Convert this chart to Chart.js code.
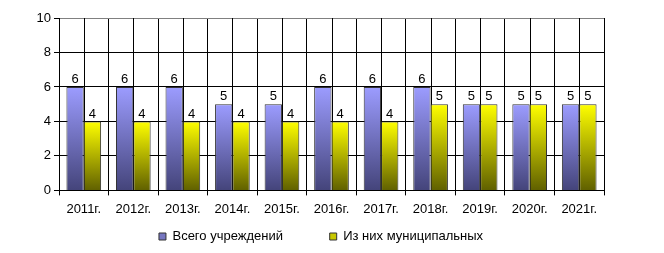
<!DOCTYPE html>
<html>
<head>
<meta charset="utf-8">
<script src="https://cdn.jsdelivr.net/npm/chart.js@4/dist/chart.umd.min.js"></script>
<style>
  body { margin: 0; background: #fff; }
  #wrap { width: 664px; height: 253px; }
</style>
</head>
<body>
<div id="wrap"><canvas id="myChart" width="664" height="253"></canvas></div>
<script>
// data
var years = ["2011г.", "2012г.", "2013г.", "2014г.", "2015г.", "2016г.", "2017г.", "2018г.", "2019г.", "2020г.", "2021г."];
var allInst = [6, 6, 6, 5, 5, 6, 6, 6, 5, 5, 5];
var municipal = [4, 4, 4, 4, 4, 4, 4, 5, 5, 5, 5];
var yTicks = [0, 2, 4, 6, 8, 10];
var seriesNames = ["Всего учреждений", "Из них муниципальных"];

var FONT = "Arial, 'Liberation Sans', sans-serif";

// vertical gradient per bar, light on top, dark at the base
function barGradient(top, bottom) {
  return function (c) {
    var chart = c.chart;
    if (!chart.chartArea || c.dataIndex === undefined) return top;
    var y = chart.scales.y;
    var v = c.dataset.data[c.dataIndex];
    var y0 = y.getPixelForValue(v), y1 = y.getPixelForValue(0);
    var g = chart.ctx.createLinearGradient(0, y0, 0, y1);
    g.addColorStop(0, top);
    g.addColorStop(1, bottom);
    return g;
  };
}

// lines through the middle of each category + value labels over bars
var extras = {
  id: 'extras',
  beforeDatasetsDraw: function (chart) {
    var x = chart.scales.x, a = chart.chartArea, ctx = chart.ctx;
    ctx.save();
    ctx.strokeStyle = '#000';
    ctx.lineWidth = 1;
    years.forEach(function (l, i) {
      var px = Math.round(x.getPixelForValue(i)) + 0.5;
      ctx.beginPath();
      ctx.moveTo(px, a.top);
      ctx.lineTo(px, a.bottom);
      ctx.stroke();
    });
    ctx.restore();
  },
  afterDatasetsDraw: function (chart) {
    var ctx = chart.ctx;
    ctx.save();
    ctx.font = '13px ' + FONT;
    ctx.fillStyle = '#000';
    ctx.textAlign = 'center';
    ctx.textBaseline = 'bottom';
    chart.data.datasets.forEach(function (ds, di) {
      chart.getDatasetMeta(di).data.forEach(function (el, i) {
        ctx.fillText(String(ds.data[i]), el.x, el.y - 1);
      });
    });
    ctx.restore();
  }
};

var legendFill = ['#7676c0', '#c8c800'];

var ctx = document.getElementById("myChart").getContext('2d');
var chart = new Chart(ctx, {
  type: 'bar',
  data: {
    labels: years,
    datasets: [{
      label: seriesNames[0],
      data: allInst,
      backgroundColor: barGradient('#9c9cff', '#44447a'),
      borderColor: '#333',
      borderWidth: 1,
      categoryPercentage: 0.7,
      barPercentage: 1
    }, {
      label: seriesNames[1],
      data: municipal,
      backgroundColor: barGradient('#ffff00', '#606000'),
      borderColor: '#333',
      borderWidth: 1,
      categoryPercentage: 0.7,
      barPercentage: 1
    }]
  },
  options: {
    responsive: false,
    animation: false,
    layout: { padding: { left: 0, right: 22, top: 18, bottom: 0 } },
    plugins: {
      tooltip: { enabled: false },
      legend: {
        position: 'bottom',
        labels: {
          color: '#000',
          font: { family: FONT, size: 13 },
          boxWidth: 7,
          boxHeight: 7,
          padding: 7,
          generateLabels: function (chart) {
            return chart.data.datasets.map(function (ds, i) {
              return {
                text: i === 0 ? ds.label + '           ' : ds.label,
                fillStyle: legendFill[i],
                strokeStyle: '#333',
                lineWidth: 1,
                datasetIndex: i
              };
            });
          }
        }
      }
    },
    scales: {
      x: {
        grid: {
          offset: true,
          color: function (c) { return c.index === years.length ? '#808080' : '#000'; },
          tickLength: 5,
          tickColor: '#000'
        },
        border: { color: '#000' },
        ticks: { color: '#000', font: { family: FONT, size: 13 }, padding: 6, maxRotation: 0 }
      },
      y: {
        min: 0,
        max: 10,
        afterFit: function (s) { s.width = 59; },
        afterBuildTicks: function (s) { s.ticks = yTicks.map(function (v) { return { value: v }; }); },
        grid: {
          color: function (c) { return c.tick && c.tick.value === 10 ? '#808080' : '#000'; },
          tickLength: 5,
          tickColor: '#000'
        },
        border: { color: '#000' },
        ticks: { color: '#000', font: { family: FONT, size: 13 }, padding: 3 }
      },
      y2: {
        position: 'right',
        min: 0,
        max: 10,
        afterFit: function (s) { s.width = 38; },
        grid: { drawOnChartArea: false, drawTicks: false },
        border: { display: false },
        ticks: { display: false }
      }
    }
  },
  plugins: [extras]
});
</script>
</body>
</html>
